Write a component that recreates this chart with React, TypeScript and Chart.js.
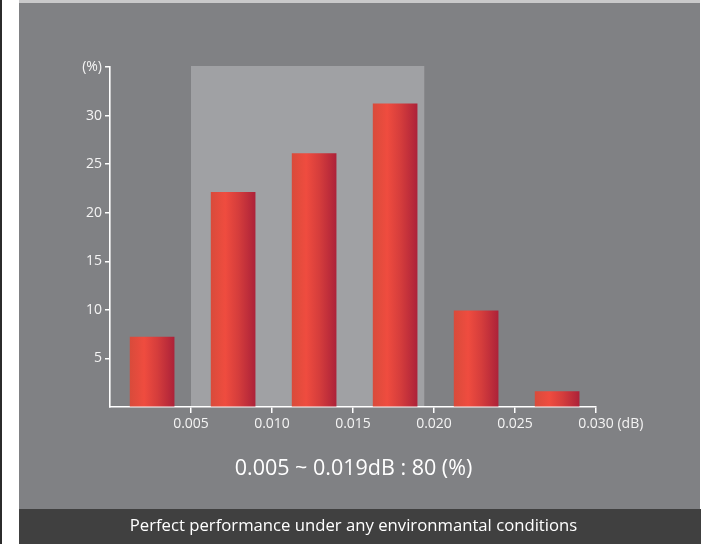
import React, { useEffect, useRef } from "react";
import { Chart, registerables } from "chart.js";

Chart.register(...registerables);

// ---- data ----
const BIN_CENTERS = [0.0026, 0.0076, 0.0126, 0.0176, 0.0226, 0.0276];
const PERCENTS = [7.2, 22.1, 26.1, 31.2, 9.9, 1.6];
const HIGHLIGHT_RANGE = [0.005, 0.0194];
const HIGHLIGHT_TOP = 35;
const Y_MAX = 35;
const X_MAX = 0.03;
const Y_TOP_LABEL = "(%)";
const X_UNIT_LABEL = " (dB)";
const SUMMARY_TEXT = "0.005 ~ 0.019dB : 80 (%)";
const FOOTER_TEXT = "Perfect performance under any environmantal conditions";

const FONT = "'Open Sans', 'DejaVu Sans', sans-serif";
const BAR_W = 44;
const TICK_FONT_SIZE = 14;

const highlightPlugin = {
  id: "highlightBand",
  beforeDraw(chart: any) {
    const { ctx, scales } = chart;
    const xs = scales.x;
    const ys = scales.y;
    const x1 = xs.getPixelForValue(HIGHLIGHT_RANGE[0]);
    const x2 = xs.getPixelForValue(HIGHLIGHT_RANGE[1]);
    const y1 = ys.getPixelForValue(HIGHLIGHT_TOP);
    const y2 = ys.getPixelForValue(0);
    ctx.save();
    ctx.fillStyle = "#a0a1a4";
    ctx.fillRect(x1, y1 - 1, x2 - x1, y2 - y1);
    ctx.restore();
  },
};

const unitPlugin = {
  id: "unitLabel",
  afterDraw(chart: any) {
    const xs = chart.scales.x;
    const items = xs.getLabelItems();
    if (!items.length) return;
    const last = items[items.length - 1];
    const ctx = chart.ctx;
    ctx.save();
    ctx.font = `${TICK_FONT_SIZE}px ${FONT}`;
    const w = ctx.measureText(String(last.label)).width;
    const [tx, ty] = last.options.translation;
    const off = last.textOffset || 0;
    ctx.fillStyle = "#f4f4f4";
    ctx.textAlign = "left";
    ctx.textBaseline = last.options.textBaseline || "middle";
    ctx.fillText(X_UNIT_LABEL, tx + w / 2, ty + off);
    ctx.restore();
  },
};

function barGradient(context: any) {
  const chart = context.chart;
  const xs = chart.scales && chart.scales.x;
  const raw = context.raw;
  if (!xs || !raw || typeof xs.getPixelForValue !== "function") return "#e0443a";
  const cx = xs.getPixelForValue(raw.x);
  if (!isFinite(cx)) return "#e0443a";
  const g = chart.ctx.createLinearGradient(cx - BAR_W / 2, 0, cx + BAR_W / 2, 0);
  g.addColorStop(0, "#d94b3b");
  g.addColorStop(0.32, "#ef4c3f");
  g.addColorStop(0.62, "#d53d3c");
  g.addColorStop(1, "#ad2239");
  return g;
}

export default function App() {
  const ref = useRef<HTMLCanvasElement | null>(null);

  useEffect(() => {
    if (!ref.current) return;
    const tickColor = (c: any) => (c.tick && c.tick.value === 0 ? "rgba(0,0,0,0)" : "#ffffff");
    const chart = new Chart(ref.current, {
      type: "bar",
      data: {
        datasets: [
          {
            data: BIN_CENTERS.map((x, i) => ({ x, y: PERCENTS[i] })),
            backgroundColor: barGradient as any,
            borderWidth: 0,
            barThickness: BAR_W,
          },
        ],
      },
      plugins: [highlightPlugin, unitPlugin],
      options: {
        responsive: false,
        animation: false,
        devicePixelRatio: 1,
        layout: { padding: { left: 0, top: 67, right: 111, bottom: 97 } },
        plugins: { legend: { display: false }, tooltip: { enabled: false } },
        scales: {
          x: {
            type: "linear",
            min: 0,
            max: X_MAX,
            offset: false,
            afterFit: (s: any) => {
              s.height = 40;
            },
            grid: {
              offset: false,
              drawOnChartArea: false,
              drawTicks: true,
              tickLength: 6,
              lineWidth: 1.5,
              color: tickColor,
            },
            border: { display: true, color: "#ffffff", width: 1.6 },
            ticks: {
              stepSize: 0.005,
              padding: 3,
              color: "#f4f4f4",
              font: { family: FONT, size: TICK_FONT_SIZE },
              maxRotation: 0,
              autoSkip: false,
              callback: (v: any) => (Math.abs(Number(v)) < 1e-9 ? "" : Number(v).toFixed(3)),
            },
          },
          y: {
            type: "linear",
            min: 0,
            max: Y_MAX,
            afterFit: (s: any) => {
              s.width = 110;
            },
            grid: {
              drawOnChartArea: false,
              drawTicks: true,
              tickLength: 5,
              lineWidth: 1.5,
              color: tickColor,
            },
            border: { display: true, color: "#ffffff", width: 1.6 },
            ticks: {
              stepSize: 5,
              padding: 3,
              color: "#f4f4f4",
              font: { family: FONT, size: TICK_FONT_SIZE },
              callback: (v: any) => {
                const n = Number(v);
                if (n === 0) return "";
                if (n === Y_MAX) return Y_TOP_LABEL;
                return String(n);
              },
            },
          },
        },
      } as any,
    });
    return () => chart.destroy();
  }, []);

  return (
    <div
      style={{
        position: "absolute",
        left: 0,
        top: 0,
        width: 707,
        height: 544,
        background: "#ffffff",
        overflow: "hidden",
        fontFamily: FONT,
      }}
    >
      <div style={{ position: "absolute", left: 0, top: 0, width: 2, height: 544, background: "#2b2b2b" }} />
      <div style={{ position: "absolute", left: 19, top: 0, width: 681, height: 3, background: "#c9c9ca" }} />
      <div style={{ position: "absolute", left: 19, top: 3, width: 681, height: 506, background: "#808184" }} />
      <div style={{ position: "absolute", left: 19, top: 509, width: 682, height: 35, background: "#404040" }} />
      <canvas
        ref={ref}
        width={707}
        height={544}
        style={{ position: "absolute", left: 0, top: 0, width: 707, height: 544 }}
      />
      <div
        style={{
          position: "absolute",
          left: 0,
          width: 707,
          top: 452,
          textAlign: "center",
          color: "#ffffff",
          fontSize: 21.5,
          lineHeight: "30px",
          paddingLeft: 0,
        }}
      >
        {SUMMARY_TEXT}
      </div>
      <div
        style={{
          position: "absolute",
          left: 0,
          width: 707,
          top: 511,
          textAlign: "center",
          color: "#ffffff",
          fontSize: 16.7,
          lineHeight: "28px",
        }}
      >
        {FOOTER_TEXT}
      </div>
    </div>
  );
}
